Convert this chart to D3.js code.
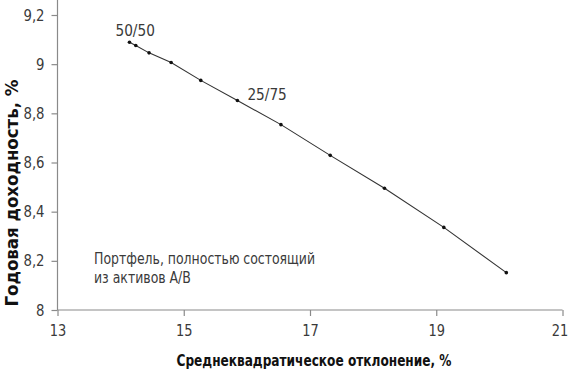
<!DOCTYPE html>
<html>
<head>
<meta charset="utf-8">
<script src="https://cdn.jsdelivr.net/npm/d3@7"></script>
<style>
	body { margin: 0; background: #fff; }
	svg text { font-family: "DejaVu Sans Condensed", "Liberation Sans Narrow", "Roboto", sans-serif; }
</style>
</head>
<body>
<script>
// risk / return of A/B portfolios, 50/50 down to 0/100
var stdDev = [14.14, 14.24, 14.45, 14.80, 15.27, 15.85, 16.54, 17.32, 18.18, 19.12, 20.11]
var annualReturn = [9.089, 9.076, 9.046, 9.007, 8.934, 8.852, 8.754, 8.629, 8.495, 8.336, 8.152]
var xTicks = [13, 15, 17, 19, 21]
var yTicks = [8, 8.2, 8.4, 8.6, 8.8, 9, 9.2]
var pointLabels = [{i: 0, text: '50/50'}, {i: 5, text: '25/75'}]
var noteLines = ['Портфель, полностью состоящий', 'из активов А/В']

var width = 570, height = 371
var svg = d3.select('body').append('svg')
	.attr('width', width)
	.attr('height', height)

var x = d3.scaleLinear().domain([13, 21]).range([57.5, 562.5])
var y = d3.scaleLinear().domain([8, 9.2]).range([310, 15])
var fmt = function(d){ return String(d).replace('.', ',') }
var axisColor = '#8a8a8a', textColor = '#3a3a3a'

// narrow the DejaVu glyphs a bit, the original face is a condensed one
function squeeze(sel, k){
	sel.each(function(){
		var w = this.getComputedTextLength()
		d3.select(this).attr('textLength', w * k).attr('lengthAdjust', 'spacingAndGlyphs')
	})
}

var xAxis = svg.append('g')
	.attr('transform', 'translate(0,' + y(8) + ')')
	.call(d3.axisBottom(x).tickValues(xTicks).tickSize(6).tickPadding(9).tickSizeOuter(0))
var yAxis = svg.append('g')
	.attr('transform', 'translate(' + x(13) + ',0)')
	.call(d3.axisLeft(y).tickValues(yTicks).tickFormat(fmt).tickSize(6).tickPadding(7).tickSizeOuter(0))

// y axis runs to the top of the picture
yAxis.select('.domain').attr('d', 'M0,' + y(8) + 'V0')
xAxis.select('.domain').attr('d', 'M' + x(13) + ',0H' + x(21))

svg.selectAll('.domain, .tick line').attr('stroke', axisColor).attr('stroke-width', 1.2)
svg.selectAll('.tick text').attr('fill', textColor).style('font-size', '16px')
xAxis.selectAll('.tick text').call(squeeze, 0.9)
yAxis.selectAll('.tick text').call(squeeze, 0.92)
// last label sits right at the edge
xAxis.selectAll('.tick text').filter(function(d){ return d == 21 }).attr('dx', -3)

var pts = stdDev.map(function(s, i){ return [s, annualReturn[i]] })

svg.append('path')
	.datum(pts)
	.attr('fill', 'none')
	.attr('stroke', '#333')
	.attr('stroke-width', 1.1)
	.attr('d', d3.line().x(function(d){ return x(d[0]) }).y(function(d){ return y(d[1]) }))

svg.selectAll('.pt').data(pts).enter().append('circle')
	.attr('class', 'pt')
	.attr('cx', function(d){ return x(d[0]) })
	.attr('cy', function(d){ return y(d[1]) })
	.attr('r', 1.8)
	.attr('fill', '#111')

svg.selectAll('.plabel').data(pointLabels).enter().append('text')
	.attr('class', 'plabel')
	.attr('x', function(d){ return x(stdDev[d.i]) + (d.i == 0 ? -14 : 10) })
	.attr('y', function(d){ return y(annualReturn[d.i]) - (d.i == 0 ? 6 : 1) })
	.attr('fill', textColor)
	.style('font-size', '16px')
	.text(function(d){ return d.text })
	.call(squeeze, 0.95)

svg.selectAll('.note').data(noteLines).enter().append('text')
	.attr('class', 'note')
	.attr('x', 94)
	.attr('y', function(d, i){ return 264 + i * 19 })
	.attr('fill', textColor)
	.style('font-size', '16px')
	.text(function(d){ return d })
	.call(squeeze, 0.867)

svg.append('text')
	.attr('x', 314)
	.attr('y', 366)
	.attr('text-anchor', 'middle')
	.attr('fill', '#111')
	.style('font-size', '16px')
	.style('font-weight', 'bold')
	.attr('textLength', 275)
	.attr('lengthAdjust', 'spacingAndGlyphs')
	.text('Среднеквадратическое отклонение, %')

svg.append('text')
	.attr('transform', 'translate(18,193) rotate(-90)')
	.attr('text-anchor', 'middle')
	.attr('fill', '#111')
	.style('font-size', '18px')
	.style('font-weight', 'bold')
	.attr('textLength', 227)
	.attr('lengthAdjust', 'spacingAndGlyphs')
	.text('Годовая доходность, %')
</script>
</body>
</html>
